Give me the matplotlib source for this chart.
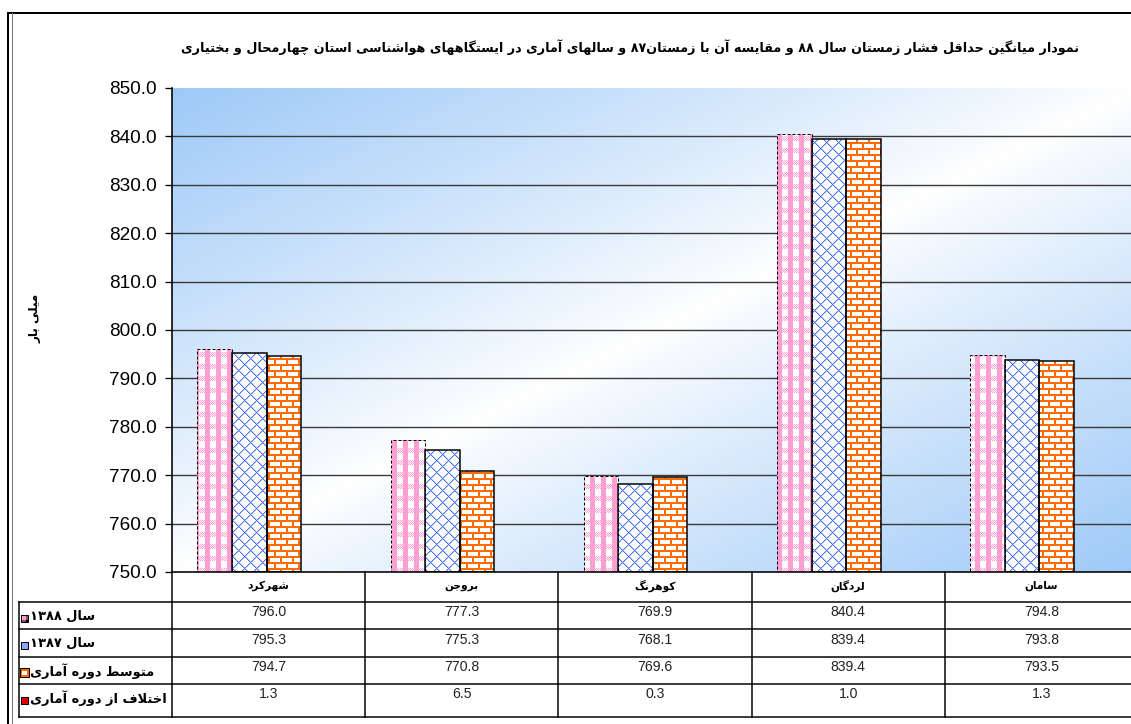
import re
import numpy as np
import matplotlib
matplotlib.use('Agg')
import matplotlib.pyplot as plt
from matplotlib.path import Path
from matplotlib.patches import Rectangle
from matplotlib.lines import Line2D
from matplotlib.transforms import Affine2D, blended_transform_factory

W_PX, H_PX = 1131, 724

TITLE = ('نمودار میانگین حداقل فشار زمستان سال ۸۸ و مقایسه آن با زمستان۸۷ '
         'و سالهای آماری در ایستگاههای هواشناسی استان چهارمحال و بختیاری')
Y_LABEL = 'میلی بار'
STATIONS = ['شهرکرد', 'بروجن', 'کوهرنگ', 'لردگان', 'سامان']
ROW_NAMES = ['سال ۱۳۸۸', 'سال ۱۳۸۷', 'متوسط دوره آماری', 'اختلاف از دوره آماری']
Y1388 = [796.0, 777.3, 769.9, 840.4, 794.8]
Y1387 = [795.3, 775.3, 768.1, 839.4, 793.8]
AVG = [794.7, 770.8, 769.6, 839.4, 793.5]
DIFF = [1.3, 6.5, 0.3, 1.0, 1.3]
Y_TICKS = [750, 760, 770, 780, 790, 800, 810, 820, 830, 840, 850]

# --- tiny arabic/persian shaper (matplotlib has no complex text layout) ---
_F = {
    'ا': (0xFE8D, 0xFE8E), 'آ': (0xFE81, 0xFE82),
    'ب': (0xFE8F, 0xFE90, 0xFE91, 0xFE92), 'پ': (0xFB56, 0xFB57, 0xFB58, 0xFB59),
    'ت': (0xFE95, 0xFE96, 0xFE97, 0xFE98), 'ث': (0xFE99, 0xFE9A, 0xFE9B, 0xFE9C),
    'ج': (0xFE9D, 0xFE9E, 0xFE9F, 0xFEA0), 'چ': (0xFB7A, 0xFB7B, 0xFB7C, 0xFB7D),
    'ح': (0xFEA1, 0xFEA2, 0xFEA3, 0xFEA4), 'خ': (0xFEA5, 0xFEA6, 0xFEA7, 0xFEA8),
    'د': (0xFEA9, 0xFEAA), 'ذ': (0xFEAB, 0xFEAC), 'ر': (0xFEAD, 0xFEAE),
    'ز': (0xFEAF, 0xFEB0), 'ژ': (0xFB8A, 0xFB8B),
    'س': (0xFEB1, 0xFEB2, 0xFEB3, 0xFEB4), 'ش': (0xFEB5, 0xFEB6, 0xFEB7, 0xFEB8),
    'ص': (0xFEB9, 0xFEBA, 0xFEBB, 0xFEBC), 'ض': (0xFEBD, 0xFEBE, 0xFEBF, 0xFEC0),
    'ط': (0xFEC1, 0xFEC2, 0xFEC3, 0xFEC4), 'ظ': (0xFEC5, 0xFEC6, 0xFEC7, 0xFEC8),
    'ع': (0xFEC9, 0xFECA, 0xFECB, 0xFECC), 'غ': (0xFECD, 0xFECE, 0xFECF, 0xFED0),
    'ف': (0xFED1, 0xFED2, 0xFED3, 0xFED4), 'ق': (0xFED5, 0xFED6, 0xFED7, 0xFED8),
    'ک': (0xFB8E, 0xFB8F, 0xFB90, 0xFB91), 'گ': (0xFB92, 0xFB93, 0xFB94, 0xFB95),
    'ل': (0xFEDD, 0xFEDE, 0xFEDF, 0xFEE0), 'م': (0xFEE1, 0xFEE2, 0xFEE3, 0xFEE4),
    'ن': (0xFEE5, 0xFEE6, 0xFEE7, 0xFEE8), 'ه': (0xFEE9, 0xFEEA, 0xFEEB, 0xFEEC),
    'و': (0xFEED, 0xFEEE), 'ی': (0xFBFC, 0xFBFD, 0xFBFE, 0xFBFF),
}
_LAM_ALEF = {'ا': (0xFEFB, 0xFEFC), 'آ': (0xFEF5, 0xFEF6)}
_DIGITS = '0123456789۰۱۲۳۴۵۶۷۸۹.'


def fa(s):
    out = []
    i = 0
    while i < len(s):
        c = s[i]
        if c not in _F:
            out.append(c)
            i += 1
            continue
        prev = s[i - 1] if i > 0 else ''
        joins_prev = prev in _F and len(_F[prev]) == 4
        if c == 'ل' and i + 1 < len(s) and s[i + 1] in _LAM_ALEF:
            iso, fin = _LAM_ALEF[s[i + 1]]
            out.append(chr(fin if joins_prev else iso))
            i += 2
            continue
        f = _F[c]
        nxt = s[i + 1] if i + 1 < len(s) else ''
        joins_next = len(f) == 4 and nxt in _F
        if joins_prev and joins_next:
            g = f[3]
        elif joins_prev:
            g = f[1]
        elif joins_next:
            g = f[2]
        else:
            g = f[0]
        out.append(chr(g))
        i += 1
    runs = re.findall('[%s]+|[^%s]+' % (_DIGITS, _DIGITS), ''.join(out))
    return ''.join(r if r[0] in _DIGITS else r[::-1] for r in reversed(runs))


AR = dict(family='DejaVu Sans', fontweight='bold')

fig = plt.figure(figsize=(W_PX / 72, H_PX / 72), dpi=72)
px = Affine2D().scale(1 / W_PX, -1 / H_PX).translate(0, 1) + fig.transFigure

# plot area in pixels: x 172..1138 (runs past the right edge), y 88..572
ax_l, ax_t, ax_w, ax_h = 172, 88, 966, 484
ax = fig.add_axes([ax_l / W_PX, 1 - (ax_t + ax_h) / H_PX, ax_w / W_PX, ax_h / H_PX])
XLIM = (-0.4, 4.6)
YLIM = (Y_TICKS[0], Y_TICKS[-1])

# background gradient (blue corners top-left / bottom-right)
gy, gx = np.mgrid[0:200, 0:400]
t = np.abs(gx / 399 + gy / 199 - 1) ** 0.9
blue = np.array([0.62, 0.79, 0.97])
grad = 1 - t[..., None] * (1 - blue)
ax.imshow(grad, extent=XLIM + YLIM, origin='upper', aspect='auto',
          interpolation='bilinear', zorder=0)
ax.hlines(Y_TICKS[1:-1], XLIM[0], XLIM[1], color='#3a3a3a', lw=1.4, zorder=1)

# pixel textures for the three bar series (one texel per screen pixel)
H, W = ax_h, ax_w
yy, xx = np.mgrid[0:H, 0:W]
tex_pink = np.ones((H, W, 3))
m = ((xx % 11) < 5) | (((yy % 12) < 5) & ((xx + yy) % 2 == 0))
tex_pink[m] = [1.0, 0.62, 0.82]
tex_blue = np.ones((H, W, 3))
tex_blue[((xx + yy) % 12 == 1) | ((xx - yy) % 12 == 1)] = [0.72, 0.79, 0.98]
tex_blue[((xx + yy) % 12 == 0) | ((xx - yy) % 12 == 0)] = [0.27, 0.45, 0.96]
tex_or = np.ones((H, W, 3))
m = ((yy % 6) < 2) | (((xx + ((yy // 6) % 2) * 6) % 12) < 2)
tex_or[m] = [1.0, 0.42, 0.0]

x = np.arange(len(STATIONS))
bw = 0.1787
series = [(Y1388, -bw, tex_pink, (0, (3, 2)), 1.0),
          (Y1387, 0.0, tex_blue, '-', 1.5),
          (AVG, bw, tex_or, '-', 1.5)]
for vals, off, tex, ls, lw in series:
    bars = ax.bar(x + off, np.subtract(vals, YLIM[0]), bottom=YLIM[0], width=bw,
                  facecolor='none', edgecolor='black', linestyle=ls, lw=lw, zorder=3)
    clip = Path.make_compound_path(
        *[b.get_path().transformed(b.get_patch_transform()) for b in bars])
    im = ax.imshow(tex, extent=XLIM + YLIM, origin='upper', aspect='auto',
                   interpolation='nearest', zorder=2)
    im.set_clip_path(clip, ax.transData)

ax.set_xlim(*XLIM)
ax.set_ylim(*YLIM)
ax.set_xticks([])
ax.set_yticks(Y_TICKS)
ax.set_yticklabels(['%.1f' % v for v in Y_TICKS], family='Liberation Sans', fontsize=19)
ax.tick_params(axis='y', length=7, width=1.3, pad=8, color='black')
for s in ('top', 'right'):
    ax.spines[s].set_visible(False)
for s in ('left', 'bottom'):
    ax.spines[s].set_linewidth(1.6)

# title and y label
fig.text(630 / W_PX, 1 - 47 / H_PX, fa(TITLE), ha='center', va='center', fontsize=12.7, **AR)
fig.text(35 / W_PX, 1 - 318 / H_PX, fa(Y_LABEL), ha='center', va='center',
         rotation=90, fontsize=12, **AR)

# data table under the plot
colx = blended_transform_factory(ax.transData, px)
ROW_Y = [572, 602, 629, 656.5, 684, 716.5]
R = 1140
for y in ROW_Y[1:]:
    fig.add_artist(Line2D([19, R], [y, y], color='black', lw=1.5, transform=px))
fig.add_artist(Line2D([19, 19], [ROW_Y[1], ROW_Y[-1]], color='black', lw=1.5, transform=px))
for k in range(len(STATIONS) + 1):
    fig.add_artist(Line2D([XLIM[0] + k, XLIM[0] + k], [ROW_Y[0], ROW_Y[-1]],
                          color='black', lw=1.5, transform=colx, clip_on=False))
for k, name in enumerate(STATIONS):
    fig.text(XLIM[0] + k + 0.5, ROW_Y[0] + 14, fa(name), transform=colx,
             ha='center', va='center', fontsize=10.5, **AR)
rows = [Y1388, Y1387, AVG, DIFF]
for r, vals in enumerate(rows):
    top = ROW_Y[r + 1]
    for k, v in enumerate(vals):
        fig.text(XLIM[0] + k + 0.5, top + 10.5, '%.1f' % v, transform=colx,
                 ha='center', va='center', family='Liberation Sans', fontsize=14,
                 color='#222222')
    fig.text(30 / W_PX, 1 - (top + 14.5) / H_PX, fa(ROW_NAMES[r]), ha='left',
             va='center', fontsize=13, **AR)

# legend keys
key_style = [dict(facecolor='#ff9ed0', edgecolor='black', hatch='++'),
             dict(facecolor='#8fa8f5', edgecolor='black'),
             dict(facecolor='white', edgecolor='#ff6a00', lw=2.0),
             dict(facecolor='#e00000', edgecolor='black')]
for r, st in enumerate(key_style):
    top = ROW_Y[r + 1]
    st = dict(st)
    lw = st.pop('lw', 1.0)
    fig.add_artist(Rectangle((21, top + 13), 6.5, 6.5, transform=px, lw=lw, **st))
    if r == 2:
        fig.add_artist(Rectangle((19.8, top + 11.8), 9, 9, transform=px, lw=1.0,
                                 facecolor='none', edgecolor='black'))

# outer frame
fig.add_artist(Line2D([8, W_PX], [12.5, 12.5], color='black', lw=2, transform=px))
fig.add_artist(Line2D([8, 8], [12.5, H_PX], color='black', lw=2, transform=px))
fig.add_artist(Line2D([11.5, 11.5], [12.5, H_PX], color='#777777', lw=1, transform=px))

fig.savefig('out.png', dpi=72)
